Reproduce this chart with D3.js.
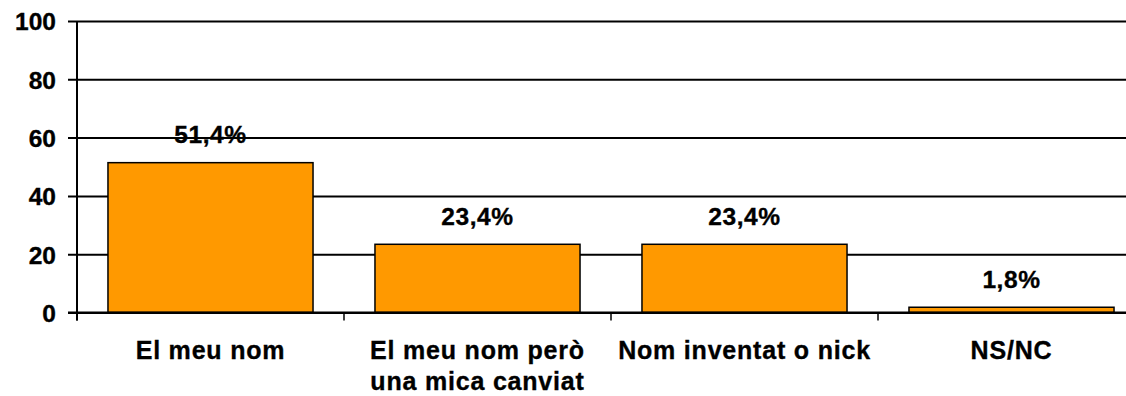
<!DOCTYPE html>
<html>
<head>
<meta charset="utf-8">
<script src="https://cdn.jsdelivr.net/npm/d3@7"></script>
<style>
  html, body { margin: 0; padding: 0; background: #fff; }
  svg { display: block; font-family: "Liberation Sans", Arial, sans-serif; font-weight: bold; }
  text { stroke: #000; stroke-width: 0.35px; }
</style>
</head>
<body>
<svg id="chart" width="1126" height="396"></svg>
<script>
// Categories (each entry is a list of label lines)
const categories = [
  ["El meu nom"],
  ["El meu nom però", "una mica canviat"],
  ["Nom inventat o nick"],
  ["NS/NC"]
];
const values = [51.4, 23.4, 23.4, 1.8];
const valueLabels = ["51,4%", "23,4%", "23,4%", "1,8%"];
const yTicks = [0, 20, 40, 60, 80, 100];

const svg = d3.select("#chart");
const plotLeft = 77, plotRight = 1145, plotTop = 21, plotBottom = 312.5;

const pad = 0.232;
const x = d3.scaleBand()
  .domain(d3.range(categories.length))
  .range([plotLeft, plotRight])
  .paddingInner(pad)
  .paddingOuter(pad / 2);

const y = d3.scaleLinear().domain([0, 100]).range([plotBottom, plotTop]);

// Horizontal gridlines with left tick marks and labels
const yAxis = d3.axisLeft(y)
  .tickValues(yTicks)
  .tickSize(-(1126 - plotLeft + 20))
  .tickPadding(12)
  .tickFormat(d3.format("d"));
const gy = svg.append("g").attr("transform", `translate(${plotLeft},0)`).call(yAxis);
gy.select(".domain").remove();
gy.selectAll(".tick line")
  .attr("x1", -9)
  .attr("stroke", "#000")
  .attr("stroke-width", 2);
gy.selectAll(".tick text")
  .attr("x", -21)
  .attr("dy", "0.36em")
  .attr("font-size", 24.5)
  .attr("font-weight", "bold")
  .attr("font-family", "Liberation Sans, Arial, sans-serif")
  .attr("fill", "#000");

// Bars
svg.append("g").selectAll("rect")
  .data(values)
  .join("rect")
  .attr("x", (d, i) => x(i))
  .attr("y", d => y(d))
  .attr("width", x.bandwidth())
  .attr("height", d => y(0) - y(d))
  .attr("fill", "#FF9900")
  .attr("stroke", "#000")
  .attr("stroke-width", 1.5);

// Value labels
svg.append("g").selectAll("text")
  .data(values)
  .join("text")
  .attr("x", (d, i) => x(i) + x.bandwidth() / 2)
  .attr("y", d => y(d) - 19.5)
  .attr("text-anchor", "middle")
  .attr("font-size", 24.5)
  .attr("letter-spacing", 0.6)
  .attr("fill", "#000")
  .text((d, i) => valueLabels[i]);

// Vertical axis line
svg.append("line")
  .attr("x1", plotLeft).attr("x2", plotLeft)
  .attr("y1", plotTop).attr("y2", plotBottom + 8)
  .attr("stroke", "#000").attr("stroke-width", 2);

// Baseline and category separators
svg.append("line")
  .attr("x1", plotLeft - 9).attr("x2", 1126)
  .attr("y1", plotBottom).attr("y2", plotBottom)
  .attr("stroke", "#000").attr("stroke-width", 2);
const step = x.step();
svg.append("g").selectAll("line")
  .data(d3.range(categories.length))
  .join("line")
  .attr("x1", i => plotLeft + i * step).attr("x2", i => plotLeft + i * step)
  .attr("y1", plotBottom).attr("y2", plotBottom + 8)
  .attr("stroke", "#000").attr("stroke-width", 1.5);

// Category labels
const cat = svg.append("g").selectAll("text")
  .data(categories)
  .join("text")
  .attr("x", (d, i) => x(i) + x.bandwidth() / 2)
  .attr("y", 359)
  .attr("text-anchor", "middle")
  .attr("font-size", 25)
  .attr("letter-spacing", 0.8)
  .attr("fill", "#000");
cat.selectAll("tspan")
  .data(d => d)
  .join("tspan")
  .attr("x", function () { return this.parentNode.getAttribute("x"); })
  .attr("dy", (d, j) => j === 0 ? 0 : 31)
  .text(d => d);
</script>
</body>
</html>
